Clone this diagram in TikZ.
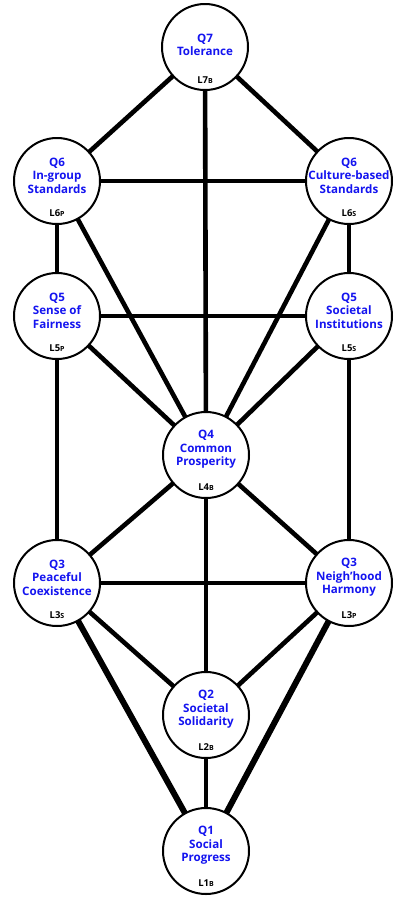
\documentclass[tikz,border=0pt]{standalone}
\usepackage{fontspec}
\setmainfont{Open Sans}
\usetikzlibrary{calc}
\definecolor{qblue}{RGB}{20,20,240}
\begin{document}
\begin{tikzpicture}[x=1pt,y=-1pt,
  qcirc/.style={circle,draw=black,line width=2pt,fill=white,minimum size=86pt,inner sep=0pt},
  edge/.style={line width=4.6pt,black},
  thickedge/.style={line width=6pt,black},
  qtext/.style={align=center,text=qblue,font=\bfseries\fontsize{11.6}{13.5}\selectfont,inner sep=0pt},
  qlab/.style={font=\bfseries\fontsize{9.5}{11}\selectfont,inner sep=0pt}]
\fill[white] (0,0) rectangle (400,898);
\useasboundingbox (0,0) rectangle (400,898);
\coordinate (q7) at (205,47);
\coordinate (q6l) at (57,181);
\coordinate (q6r) at (349,181);
\coordinate (q5l) at (57,316);
\coordinate (q5r) at (349,316);
\coordinate (q4) at (206,455);
\coordinate (q3l) at (57,583);
\coordinate (q3r) at (349,583);
\coordinate (q2) at (206,715);
\coordinate (q1) at (206,851);
% edges
\draw[edge] (q7) -- (q6l);
\draw[edge] (q7) -- (q6r);
\draw[edge] (q7) -- (q4);
\draw[edge] (q6l) -- (q6r);
\draw[edge] (q6l) -- (q5l);
\draw[edge] (q6r) -- (q5r);
\draw[edge] (q6l) -- (q4);
\draw[edge] (q6r) -- (q4);
\draw[edge] (q5l) -- (q5r);
\draw[edge] (q5l) -- (q4);
\draw[edge] (q5r) -- (q4);
\draw[edge] (q5l) -- (q3l);
\draw[edge] (q5r) -- (q3r);
\draw[edge] (q4) -- (q3l);
\draw[edge] (q4) -- (q3r);
\draw[edge] (q4) -- (q2);
\draw[edge] (q3l) -- (q3r);
\draw[edge] (q3l) -- (q2);
\draw[edge] (q3r) -- (q2);
\draw[edge] (q2) -- (q1);
\draw[thickedge] (q3l) -- (q1);
\draw[thickedge] (q3r) -- (q1);
% circles
\foreach \n in {q7,q6l,q6r,q5l,q5r,q4,q3l,q3r,q2,q1}
  \node[qcirc] (c-\n) at (\n) {};
% texts
\node[qtext] (t7) at ($(q7)+(0,-2)$) {Q7\\Tolerance};
\node[qtext] (t6l) at ($(q6l)+(0,-5.5)$) {Q6\\In-group\\Standards};
\node[qtext] (t6r) at ($(q6r)+(0,-5.5)$) {Q6\\Culture-based\\Standards};
\node[qtext] (t5l) at ($(q5l)+(0,-5.5)$) {Q5\\Sense of\\Fairness};
\node[qtext] (t5r) at ($(q5r)+(0,-5.5)$) {Q5\\Societal\\Institutions};
\node[qtext] (t4) at ($(q4)+(0,-5.5)$) {Q4\\Common\\Prosperity};
\node[qtext] (t3l) at ($(q3l)+(0,-5.5)$) {Q3\\Peaceful\\Coexistence};
\node[qtext] (t3r) at ($(q3r)+(0,-5.5)$) {Q3\\Neigh’hood\\Harmony};
\node[qtext] (t2) at ($(q2)+(0,-5.5)$) {Q2\\Societal\\Solidarity};
\node[qtext] (t1) at ($(q1)+(0,-5.5)$) {Q1\\Social\\Progress};
% level labels
\node[qlab] (l7) at ($(q7)+(0,33)$) {L7{\fontsize{7}{8}\selectfont B}};
\node[qlab] (l6l) at ($(q6l)+(0,32)$) {L6{\fontsize{7}{8}\selectfont P}};
\node[qlab] (l6r) at ($(q6r)+(0,32)$) {L6{\fontsize{7}{8}\selectfont S}};
\node[qlab] (l5l) at ($(q5l)+(0,32)$) {L5{\fontsize{7}{8}\selectfont P}};
\node[qlab] (l5r) at ($(q5r)+(0,32)$) {L5{\fontsize{7}{8}\selectfont S}};
\node[qlab] (l4) at ($(q4)+(0,32)$) {L4{\fontsize{7}{8}\selectfont B}};
\node[qlab] (l3l) at ($(q3l)+(0,32)$) {L3{\fontsize{7}{8}\selectfont S}};
\node[qlab] (l3r) at ($(q3r)+(0,32)$) {L3{\fontsize{7}{8}\selectfont P}};
\node[qlab] (l2) at ($(q2)+(0,32)$) {L2{\fontsize{7}{8}\selectfont B}};
\node[qlab] (l1) at ($(q1)+(0,32)$) {L1{\fontsize{7}{8}\selectfont B}};
\end{tikzpicture}
\end{document}
